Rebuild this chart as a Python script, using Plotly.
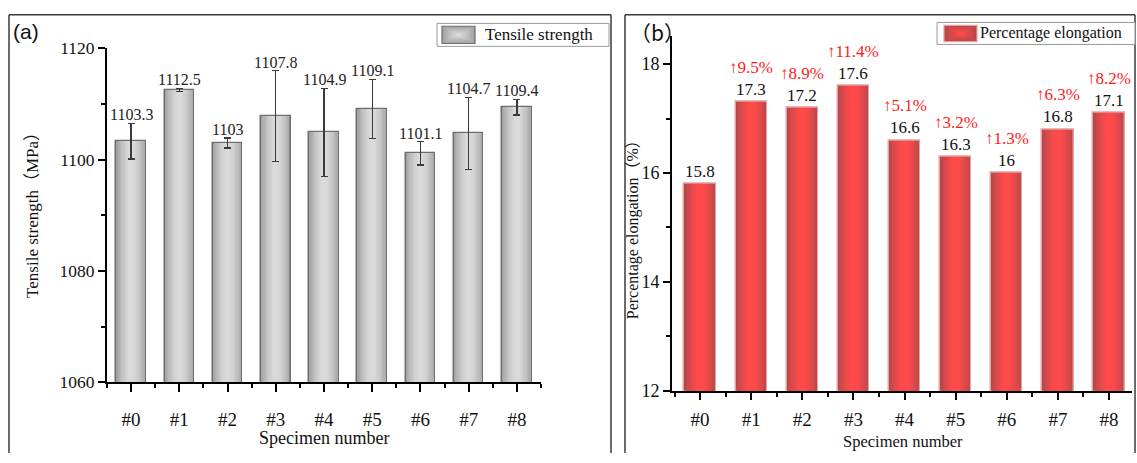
import plotly.graph_objects as go

# ---- data -------------------------------------------------------------
specimens = ["#0", "#1", "#2", "#3", "#4", "#5", "#6", "#7", "#8"]
tensile_strength = [1103.3, 1112.5, 1103.0, 1107.8, 1104.9, 1109.1, 1101.1, 1104.7, 1109.4]
tensile_error = [3.2, 0.3, 0.9, 8.2, 7.9, 5.3, 2.1, 6.5, 1.4]
elongation = [15.8, 17.3, 17.2, 17.6, 16.6, 16.3, 16.0, 16.8, 17.1]

W, H = 1137, 463
SERIF = "Liberation Serif, Noto Sans CJK SC, serif"
xs = list(range(len(specimens)))

GREY_EDGE, GREY_CENTRE = (163, 163, 163), (218, 218, 218)
RED_EDGE, RED_CENTRE = (182, 72, 74), (255, 74, 74)


def px(x):
    return x / W


def py(y):
    return 1 - y / H


def lerp_color(c0, c1, t):
    return "rgb({},{},{})".format(*[round(a + (b - a) * t) for a, b in zip(c0, c1)])


fig = go.Figure()

BAR_W = 0.615
LAYERS = 12


def shaded_bars(values, xaxis, yaxis, edge_rgb, centre_rgb, line_col):
    """Stack of centred bars of shrinking width to give a shaded look."""
    for k in range(LAYERS):
        t = k / (LAYERS - 1)
        width = BAR_W * (1 - 0.9 * t)
        col = lerp_color(edge_rgb, centre_rgb, 1 - (1 - t) ** 1.6)
        fig.add_trace(go.Bar(
            x=xs, y=values, width=width,
            marker=dict(color=col,
                        line=dict(color=line_col, width=1.5 if k == 0 else 0)),
            showlegend=False, xaxis=xaxis, yaxis=yaxis, hoverinfo="skip",
        ))


# ---- (a) tensile strength ---------------------------------------------
shaded_bars(tensile_strength, "x", "y", GREY_EDGE, GREY_CENTRE, "#6e6e6e")
fig.add_trace(go.Bar(
    x=xs, y=tensile_strength, width=BAR_W,
    marker=dict(color="rgba(0,0,0,0)", line=dict(width=0)),
    error_y=dict(type="data", array=tensile_error, color="#3a3a3a",
                 thickness=1.3, width=3.5),
    showlegend=False, xaxis="x", yaxis="y", hoverinfo="skip",
))

# ---- (b) elongation ---------------------------------------------------
shaded_bars(elongation, "x2", "y2", RED_EDGE, RED_CENTRE, "#e9a0a0")

annotations = []
for i, (v, e) in enumerate(zip(tensile_strength, tensile_error)):
    annotations.append(dict(
        x=i, y=v + e, xref="x", yref="y", text=f"{v:g}", showarrow=False,
        xanchor="center", yanchor="bottom", yshift=-2,
        font=dict(family=SERIF, size=16, color="#222"),
    ))

base = elongation[0]
for i, v in enumerate(elongation):
    annotations.append(dict(
        x=i, y=v, xref="x2", yref="y2", text=f"{v:g}", showarrow=False,
        xanchor="center", yanchor="bottom", yshift=1,
        font=dict(family=SERIF, size=17, color="#111"),
    ))
    if i > 0:
        pct = (v - base) / base * 100
        annotations.append(dict(
            x=i, y=v, xref="x2", yref="y2", text=f"↑{pct:.1f}%", showarrow=False,
            xanchor="center", yanchor="bottom", yshift=23,
            font=dict(family=SERIF, size=17, color="#ff1a1a"),
        ))


def label(x, y, text, size, angle=0, anchor="center", family=SERIF):
    return dict(x=px(x), y=py(y), xref="paper", yref="paper", text=text,
                showarrow=False, textangle=angle, xanchor=anchor, yanchor="middle",
                font=dict(family=family, size=size, color="#111"))


# panel letters and axis titles
annotations += [
    label(11, 22, "(a)", 21, anchor="left", family="Liberation Sans, Arial, sans-serif"),
    label(628, 23, "（b）", 21, anchor="left", family="Noto Sans CJK SC, sans-serif"),
    label(324, 447, "Specimen number", 18),
    label(903, 451, "Specimen number", 16.5),
    label(33, 210, "Tensile strength（MPa）", 17, angle=-90),
    label(633, 226, "Percentage elongation（%）", 16, angle=-90),
    label(483, 26, "Tensile strength", 17, anchor="left"),
    label(978, 24.5, "Percentage elongation", 16, anchor="left"),
]


def seg(x0, y0, x1, y1, color="#3a3a3a", width=1.5):
    return dict(type="line", xref="paper", yref="paper", x0=px(x0), x1=px(x1),
                y0=py(y0), y1=py(y1), line=dict(color=color, width=width))


# panel frames (open at the bottom edge of the figure)
shapes = [
    seg(9, 463, 9, 5), seg(9, 5, 611, 5), seg(611, 5, 611, 463),
    seg(625, 463, 625, 5), seg(625, 5, 1135, 5), seg(1135, 5, 1135, 463),
]


def legend_box(x0, x1, y0, y1, sx0, sx1, sy0, sy1, edge_rgb, centre_rgb, border):
    """Framed key with a shaded swatch."""
    out = [dict(type="rect", xref="paper", yref="paper", x0=px(x0), x1=px(x1),
                y0=py(y1), y1=py(y0), fillcolor="white",
                line=dict(color="#9a9a9a", width=1))]
    steps = 8
    cx, cy = (sx0 + sx1) / 2, (sy0 + sy1) / 2
    hw, hh = (sx1 - sx0) / 2, (sy1 - sy0) / 2
    for k in range(steps):
        t = k / (steps - 1)
        f = 1 - 0.85 * t
        out.append(dict(type="rect", xref="paper", yref="paper",
                        x0=px(cx - hw * f), x1=px(cx + hw * f),
                        y0=py(cy + hh * f), y1=py(cy - hh * f),
                        fillcolor=lerp_color(edge_rgb, centre_rgb, t),
                        line=dict(color=border if k == 0 else "rgba(0,0,0,0)",
                                  width=1.2 if k == 0 else 0)))
    return out


shapes += legend_box(437, 609, 14, 38, 442, 475, 17, 35, GREY_EDGE, GREY_CENTRE, "#6e6e6e")
shapes += legend_box(937, 1135, 13, 36, 944, 977, 16, 33, RED_EDGE, RED_CENTRE, "#e9a0a0")

axis_common = dict(showgrid=False, zeroline=False, showline=True, linecolor="black",
                   linewidth=2, ticks="outside", tickcolor="black", tickwidth=2)
half_ticks = [i + 0.5 for i in range(-1, 9)]


def minor(vals):
    return dict(tickmode="array", tickvals=vals, ticklen=4, tickwidth=2,
                tickcolor="black", ticks="outside")


fig.update_layout(
    width=W, height=H, margin=dict(l=0, r=0, t=0, b=0),
    paper_bgcolor="white", plot_bgcolor="white",
    barmode="overlay", bargap=0, showlegend=False,
    annotations=annotations, shapes=shapes,
    xaxis=dict(domain=[px(107), px(541)], range=[-0.5, 8.5], anchor="y",
               tickmode="array", tickvals=xs, ticktext=specimens, ticklen=8,
               ticklabelstandoff=11, minor=minor(half_ticks),
               tickfont=dict(family=SERIF, size=19, color="#111"), **axis_common),
    yaxis=dict(domain=[py(389), py(40)], range=[1060, 1120], anchor="x",
               tickvals=[1060, 1080, 1100, 1120], ticklen=7,
               minor=minor([1070, 1090, 1110]),
               tickfont=dict(family=SERIF, size=17.5, color="#111"), **axis_common),
    xaxis2=dict(domain=[px(672), px(1132)], range=[-0.55, 8.45], anchor="y2",
                tickmode="array", tickvals=xs, ticktext=specimens, ticklen=7,
                ticklabelstandoff=3, minor=minor(half_ticks),
                tickfont=dict(family=SERIF, size=19, color="#111"), **axis_common),
    yaxis2=dict(domain=[py(398), py(27)], range=[12, 18.52], anchor="x2",
                tickvals=[12, 14, 16, 18], ticklen=7,
                minor=minor([13, 15, 17]),
                tickfont=dict(family=SERIF, size=18, color="#111"), **axis_common),
)

# keep the page exactly the size of the figure
page_css = ("document.documentElement.style.overflow='hidden';"
            "document.body.style.margin='0';"
            "document.body.style.overflow='hidden';")
fig.write_html("out.html", post_script=page_css)
